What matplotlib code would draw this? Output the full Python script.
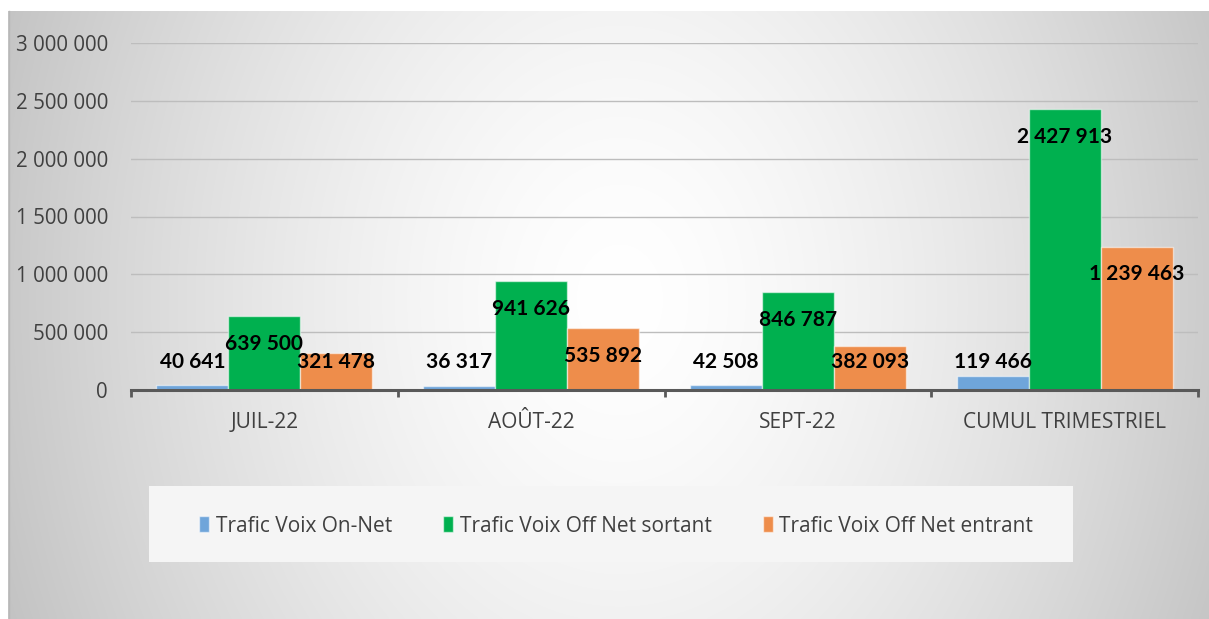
import numpy as np
import matplotlib
matplotlib.use('Agg')
import matplotlib.pyplot as plt
from matplotlib.patches import Rectangle
from matplotlib.ticker import FuncFormatter, FixedLocator

# ---------------- data ----------------
categories = ["JUIL-22", "AOÛT-22", "SEPT-22", "CUMUL TRIMESTRIEL"]
series_names = ["Trafic Voix On-Net", "Trafic Voix Off Net sortant", "Trafic Voix Off Net entrant"]
on_net = [40641, 36317, 42508, 119466]
off_net_sortant = [639500, 941626, 846787, 2427913]
off_net_entrant = [321478, 535892, 382093, 1239463]
y_ticks = [0, 500000, 1000000, 1500000, 2000000, 2500000, 3000000]

series_values = [on_net, off_net_sortant, off_net_entrant]
colors = ["#6FA5DA", "#00B04F", "#EE8D4B"]

W, H = 1209, 619
fig = plt.figure(figsize=(W / 100, H / 100), dpi=100)
fig.patch.set_facecolor('white')

# ---------------- background gradient ----------------
bg = fig.add_axes([8 / W, 0, 1 - 8 / W, 1 - 11 / H])
bg.set_axis_off()
xs = np.linspace(8, W, 600)
ys = np.linspace(11, H, 300)
X, Y = np.meshgrid(xs, ys)
cx, cy = 620, 300
dx = (X - cx) / 600
dy = (Y - cy) / 310 * 0.4
d = np.sqrt(dx ** 2 + dy ** 2)
g = np.clip(255 - 52 * d ** 1.5, 0, 255) / 255
img = np.dstack([g, g, g])
bg.imshow(img, extent=[0, 1, 0, 1], origin='upper', aspect='auto', interpolation='bilinear')
bg.set_xlim(0, 1)
bg.set_ylim(0, 1)
fig.add_artist(plt.Line2D([8.5 / W, 8.5 / W], [0, 1 - 11 / H], transform=fig.transFigure,
                          color='#b8b8b8', lw=1))

# ---------------- main axes ----------------
ax = fig.add_axes([131 / W, (H - 390) / H, (1198 - 131) / W, 347 / H])
ax.patch.set_alpha(0)

x = np.arange(len(categories))
w = 0.27
offsets = [-w, 0, w]
bars = []
for vals, off, col, name in zip(series_values, offsets, colors, series_names):
    b = ax.bar(x + off, vals, width=w, color=col, edgecolor=(1, 1, 1, 0.55), linewidth=1,
               label=name, zorder=3)
    bars.append(b)
    for xi, v in zip(x, vals):
        ly = max(v - 240000, 242000)
        s = f"{v:,}".replace(",", " ")
        ax.text(xi + off, ly, s, ha='center', va='center', fontsize=15, fontweight='bold',
                family=['Lato', 'DejaVu Sans'], color='black', zorder=5)

ax.set_xlim(-0.5, len(categories) - 0.5)
ax.set_ylim(0, 3000000)
ax.yaxis.set_major_locator(FixedLocator(y_ticks))
ax.yaxis.set_major_formatter(FuncFormatter(lambda v, p: f"{int(v):,}".replace(",", " ")))
ax.grid(axis='y', color='#bdbdbd', lw=1, zorder=0)
for s in ['left', 'right', 'top']:
    ax.spines[s].set_visible(False)
ax.spines['bottom'].set_color('#595959')
ax.spines['bottom'].set_linewidth(2.2)
ax.spines['bottom'].set_zorder(4)

ax.set_xticks(x)
ax.set_xticklabels(categories)
ax.set_xticks(np.arange(-0.5, len(categories), 1), minor=True)
ax.tick_params(axis='x', which='major', length=0, pad=16, labelsize=15, labelcolor='#404040')
ax.tick_params(axis='x', which='minor', length=5, width=2, color='#595959', direction='out')
ax.tick_params(axis='y', length=0, pad=16.5, labelsize=14.8, labelcolor='#404040')
for lab in ax.get_xticklabels() + ax.get_yticklabels():
    lab.set_family(['Open Sans', 'DejaVu Sans'])

# ---------------- legend ----------------
fig.add_artist(Rectangle((149 / W, (H - 562) / H), (1073 - 149) / W, 76 / H,
                         transform=fig.transFigure, facecolor='#f5f5f5', edgecolor='none', zorder=1))
leg = fig.legend(handles=bars, labels=series_names, loc='center',
                 bbox_to_anchor=(616 / W, (H - 526) / H), ncol=3, frameon=False,
                 prop={'family': ['Open Sans', 'DejaVu Sans'], 'size': 15},
                 handlelength=0.5, handleheight=0.8, handletextpad=0.3, columnspacing=2.45,
                 labelcolor='#404040')
leg.set_zorder(2)

fig.savefig('out.png', dpi=100, facecolor='white')
